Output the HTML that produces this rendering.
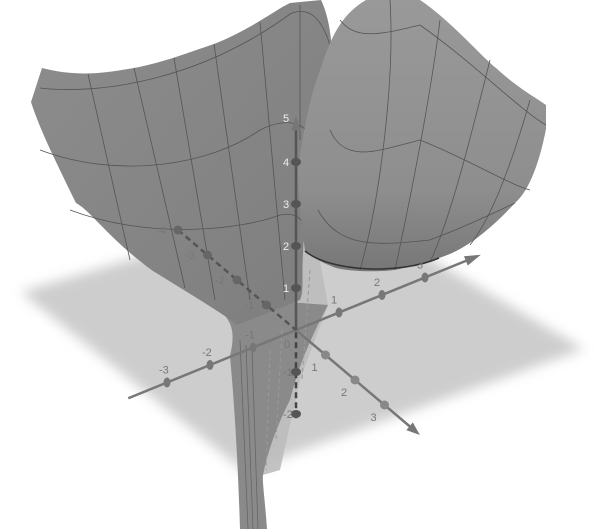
<!DOCTYPE html>
<html><head><meta charset="utf-8"><style>
html,body{margin:0;padding:0;background:#fff;width:600px;height:532px;overflow:hidden}
svg{display:block}
text{font-family:"Liberation Sans",sans-serif;font-size:11px;fill:#777}
</style></head><body>
<svg width="600" height="532" viewBox="0 0 600 532">
<defs>
<filter id="blur"><feGaussianBlur stdDeviation="6"/></filter>
<linearGradient id="gl" x1="0" y1="0" x2="1" y2="1"><stop offset="0" stop-color="#8d8d8d"/><stop offset="1" stop-color="#7e7e7e"/></linearGradient>
<linearGradient id="gr" x1="0" y1="0" x2="0" y2="1"><stop offset="0" stop-color="#999"/><stop offset="0.7" stop-color="#8e8e8e"/><stop offset="1" stop-color="#777"/></linearGradient>
</defs>
<polygon points="21,292 330,200 584,349 244,471" fill="#cdcdcd" filter="url(#blur)"/>
<!-- translucent sheet -->
<path d="M296,244 L318,250 L328,305 L300,380 L280,470 L263,475 L255,420 L262,350 L285,300 Z" fill="#bdbdbd" opacity="0.9"/>
<!-- spike -->
<path d="M214,305 C232,320 236,330 230,356 C234,400 238,460 240,529 L267,529 C265,500 262,480 263,475 C270,440 285,410 290,400 C300,360 315,330 328,305 L260,300 Z" fill="#8a8a8a"/>
<path d="M240,340 L248,529 M246,345 L253,529 M252,350 L258,529" stroke="#666" stroke-width="0.8" fill="none"/>
<path d="M270,350 L266,470 M282,330 L276,440 M310,270 L302,380" stroke="#999" stroke-dasharray="4,3" fill="none"/>
<!-- left surface -->
<path d="M42,68 C80,78 110,72 134,68 C165,62 190,52 214,44 C250,30 275,10 290,3 L321,0 C326,10 332,30 332,60 C330,110 315,180 305,230 C300,270 305,290 300,300 L237,325 C225,315 200,300 153,271 C110,240 90,210 76,203 C55,160 40,130 31,102 Z" fill="url(#gl)"/>
<g stroke="#555" stroke-width="0.8" fill="none">
<path d="M40,88 C100,95 200,80 290,14 C310,5 322,20 330,45"/>
<path d="M40,150 C120,180 210,165 260,130 C290,115 305,125 315,140"/>
<path d="M70,210 C150,240 240,230 280,215 C295,212 300,218 305,225"/>
<path d="M88,74 L130,260"/><path d="M134,68 L185,288"/><path d="M174,58 L215,300"/>
<path d="M214,44 L250,300"/><path d="M260,22 L285,300"/><path d="M300,5 L300,140"/>
</g>
<!-- right surface -->
<path d="M321,68 C330,40 340,15 366,0 L420,0 C450,20 480,55 496,68 C520,90 540,100 546,105 L546,129 C540,160 530,190 515,203 C490,230 465,250 439,258 C415,266 395,271 382,271 C360,272 345,270 336,268 C320,262 310,256 305,251 C300,210 298,190 298,169 C305,120 312,90 321,68 Z" fill="url(#gr)"/>
<g stroke="#555" stroke-width="0.8" fill="none">
<path d="M340,20 C355,40 380,35 420,25 C470,60 520,110 546,125"/>
<path d="M330,130 C345,165 380,150 420,140 C470,160 510,185 530,190"/>
<path d="M318,210 C340,250 380,245 430,240 C470,225 500,210 515,203"/>
<path d="M390,0 C395,80 380,200 360,270"/><path d="M440,20 C430,100 410,200 395,270"/>
<path d="M490,60 C470,140 450,220 430,262"/><path d="M530,100 C510,170 490,220 470,245"/>
</g>
<path d="M305,251 C330,272 400,275 439,258" stroke="#333" stroke-width="1.5" fill="none"/>
<g id="axes"></g>
</svg>
<script>
const xTicks=[-3,-2,-1,1,2,3];
const yTicks=[-4,-3,-2,-1,1,2,3];
const zTicks=[-2,-1,1,2,3,4];
const O=[296,330], ux=[43,-17.5], uy=[29.5,25], uz=[0,-42];
const NS='http://www.w3.org/2000/svg';
const g=document.getElementById('axes');
function mk(t,a){const e=document.createElementNS(NS,t);for(const k in a)e.setAttribute(k,a[k]);g.appendChild(e);return e;}
function P(u,v){return [O[0]+u[0]*v,O[1]+u[1]*v];}
let l;
l=mk('line',{x1:P(ux,-3.9)[0],y1:P(ux,-3.9)[1],x2:P(ux,4)[0],y2:P(ux,4)[1],stroke:'#777','stroke-width':2.5});


l=mk('line',{x1:P(uy,-4)[0],y1:P(uy,-4)[1],x2:O[0],y2:O[1],stroke:'#555','stroke-width':2.5,'stroke-dasharray':'6,4'});


l=mk('line',{x1:O[0],y1:O[1],x2:P(uy,3.9)[0],y2:P(uy,3.9)[1],stroke:'#777','stroke-width':2.5});


l=mk('line',{x1:O[0],y1:P(uz,-2.1)[1],x2:O[0],y2:O[1],stroke:'#444','stroke-width':2.5,'stroke-dasharray':'6,4'});


l=mk('line',{x1:O[0],y1:O[1],x2:O[0],y2:P(uz,4.9)[1],stroke:'#555','stroke-width':2.5});


function arrow(u,v,name){const a=P(u,v),b=P(u,v-0.35);const dx=a[0]-b[0],dy=a[1]-b[1];const n=Math.hypot(dx,dy),px=-dy/n*5,py=dx/n*5;
const e=mk('polygon',{points:`${a[0]},${a[1]} ${b[0]+px},${b[1]+py} ${b[0]-px},${b[1]-py}`,fill:'#777'});

}
arrow(ux,4.3,'x-arrow');arrow(uy,4.2,'y-arrow');arrow(uz,5.1,'z-arrow');
xTicks.forEach(v=>{const p=P(ux,v);const e=mk('ellipse',{cx:p[0],cy:p[1],rx:3.5,ry:5,fill:'#777'});


const t=mk('text',{x:p[0]-8,y:p[1]-9});t.textContent=v;

});
yTicks.forEach(v=>{const p=P(uy,v);const e=mk('circle',{cx:p[0],cy:p[1],r:4.5,fill:v<0?'#666':'#888'});


const t=mk('text',{x:v<0?p[0]-22:p[0]-14,y:v<0?p[1]+4:p[1]+16});t.textContent=v;

});
zTicks.forEach(v=>{const p=P(uz,v);const e=mk('ellipse',{cx:p[0],cy:p[1],rx:5,ry:4,fill:'#555'});


const t=mk('text',{x:p[0]-13,y:p[1]+4,fill:'#eee'});t.textContent=v;t.style.fill=v>0?'#eee':'#777';

});
const t5=mk('text',{x:283,y:122});t5.textContent='5';t5.style.fill='#eee';


const t0=mk('text',{x:284,y:348});t0.textContent='0';


</script>
</body></html>
